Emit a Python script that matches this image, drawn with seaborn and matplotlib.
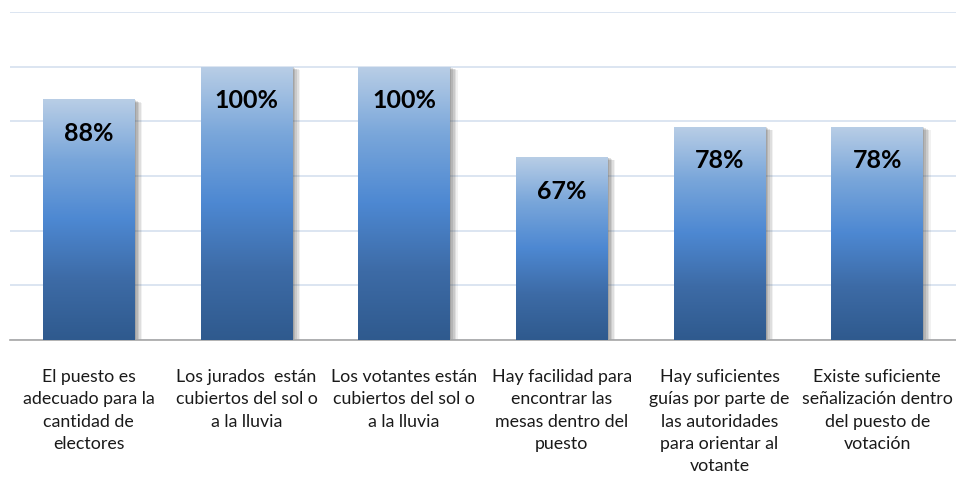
import numpy as np
import pandas as pd
import matplotlib
matplotlib.use('Agg')
import matplotlib.pyplot as plt
import seaborn as sns
from matplotlib.colors import LinearSegmentedColormap
from matplotlib.patches import Rectangle

categorias = ['El puesto es\nadecuado para la\ncantidad de\nelectores',
              'Los jurados  están\ncubiertos del sol o\na la lluvia',
              'Los votantes están\ncubiertos del sol o\na la lluvia',
              'Hay facilidad para\nencontrar las\nmesas dentro del\npuesto',
              'Hay suficientes\nguías por parte de\nlas autoridades\npara orientar al\nvotante',
              'Existe suficiente\nseñalización dentro\ndel puesto de\nvotación']
valores = [88, 100, 100, 67, 78, 78]
etiquetas = ['88%', '100%', '100%', '67%', '78%', '78%']

df = pd.DataFrame({'cat': categorias, 'val': valores})

sns.set_style('white')
plt.rcParams['font.family'] = ['Lato', 'DejaVu Sans']

fig = plt.figure(figsize=(9.56, 4.79), dpi=100)
ax = fig.add_axes([10/956, 139/479, 946/956, 328/479])

ax = sns.barplot(data=df, x='cat', y='val', width=0.58, color='#558ED5', ax=ax, zorder=3)
ax.set_xlim(-0.5, 5.5)
ax.set_ylim(0, 120)
ax.set_yticks(range(0, 121, 20))
ax.yaxis.grid(True, color='#D6E0EF', lw=1.2, zorder=0)
ax.set_axisbelow(True)
for s in ['top', 'right', 'left']:
    ax.spines[s].set_visible(False)
ax.spines['bottom'].set_color('#A6A6A6')
ax.spines['bottom'].set_linewidth(1.2)
ax.set_yticklabels([])
ax.tick_params(axis='y', length=0)
ax.tick_params(axis='x', length=0, pad=21)
ax.set_xlabel('')
ax.set_ylabel('')
ax.set_xticks(range(len(categorias)))
ax.set_xticklabels(categorias, fontsize=12.8, color='#1a1a1a', linespacing=1.48, va='top')

cmap = LinearSegmentedColormap.from_list('grad', ['#B9CEE6', '#79A6DA', '#4D88D2', '#3D6BA6', '#2F5A8E'])
grad = np.linspace(0, 1, 256).reshape(-1, 1)

for p, lab in zip(ax.patches, etiquetas):
    x0, w, h = p.get_x(), p.get_width(), p.get_height()
    # sombra
    for k, a in [(0.05, 0.07), (0.04, 0.10), (0.03, 0.12), (0.02, 0.15), (0.01, 0.15)]:
        sh = Rectangle((x0 + k, 0), w, h - k * 25, facecolor='#404040', alpha=a,
                       edgecolor='none', zorder=2)
        ax.add_patch(sh)
    im = ax.imshow(grad, cmap=cmap, aspect='auto', extent=(x0, x0 + w, 0, h),
                   origin='upper', zorder=3)
    im.set_clip_path(p)
    p.set_facecolor('none')
    p.set_edgecolor('none')
    ax.text(x0 + w / 2, h - 12.5, lab, ha='center', va='center', fontsize=18,
            fontweight='bold', color='black', zorder=5)

ax.set_xlim(-0.5, 5.5)
ax.set_ylim(0, 120)
fig.savefig('out.png', dpi=100)
